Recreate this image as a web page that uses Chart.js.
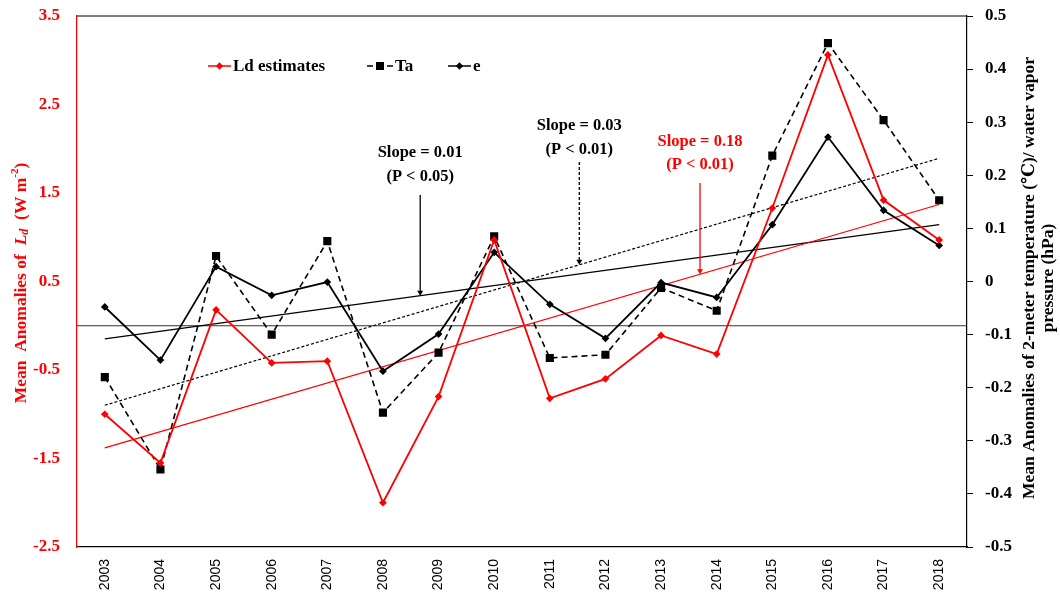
<!DOCTYPE html>
<html>
<head>
<meta charset="utf-8">
<script src="https://cdn.jsdelivr.net/npm/chart.js@4.4.1/dist/chart.umd.min.js"></script>
<style>
    html, body { margin: 0; padding: 0; background: #fff; }
    #wrap { width: 1060px; height: 594px; }
</style>
</head>
<body>
<div id="wrap"><canvas id="anomChart" width="1060" height="594"></canvas></div>
<script>
// Annual mean anomalies, 2003-2018
const years = ['2003', '2004', '2005', '2006', '2007', '2008', '2009', '2010',
               '2011', '2012', '2013', '2014', '2015', '2016', '2017', '2018'];
const ldEstimates = [-1.00, -1.55, 0.18, -0.42, -0.40, -2.00, -0.80, 0.97,
                     -0.82, -0.60, -0.11, -0.32, 1.33, 3.06, 1.42, 0.97];
const taValues = [-0.180, -0.354, 0.048, -0.100, 0.076, -0.247, -0.134, 0.085,
                  -0.144, -0.138, -0.012, -0.055, 0.237, 0.449, 0.304, 0.153];
const eValues = [-0.048, -0.148, 0.028, -0.026, -0.001, -0.169, -0.099, 0.055,
                 -0.043, -0.107, -0.002, -0.030, 0.107, 0.272, 0.134, 0.068];

// linear trends (value at first and last year)
const ldTrend = [-1.38, 1.37];
const taTrend = [-0.233, 0.232];
const eTrend = [-0.108, 0.107];

const leftTicks = [-2.5, -1.5, -0.5, 0.5, 1.5, 2.5, 3.5];
const rightTicks = [-0.5, -0.4, -0.3, -0.2, -0.1, 0, 0.1, 0.2, 0.3, 0.4, 0.5];

const slopeNotes = [
    { lines: ['Slope = 0.01', '(P < 0.05)'], trend: eTrend, axis: 'y1' },
    { lines: ['Slope = 0.03', '(P < 0.01)'], trend: taTrend, axis: 'y1' },
    { lines: ['Slope = 0.18', '(P < 0.01)'], trend: ldTrend, axis: 'y' }
];

const RED = '#ff0000';
const SERIF = '"Liberation Serif", "DejaVu Serif", serif';

function trendPoints(t) {
    return [{ x: years[0], y: t[0] }, { x: years[years.length - 1], y: t[1] }];
}

// keep the plot box fixed: set axis size and drop the label overhang padding
function fitVertical(width) {
    return scale => {
        scale.width = width;
        scale.paddingTop = 8;
        scale.paddingBottom = 8;
    };
}

// Extra drawing: zero line, frame top, legend, axis titles and slope notes
const decorPlugin = {
    id: 'decor',
    beforeDatasetsDraw(chart) {
        const { ctx, chartArea, scales } = chart;
        const y0 = scales.y.getPixelForValue(0);
        ctx.save();
        ctx.strokeStyle = '#333';
        ctx.lineWidth = 1;
        ctx.beginPath();
        ctx.moveTo(chartArea.left, y0);
        ctx.lineTo(chartArea.right, y0);
        ctx.stroke();
        ctx.restore();
    },
    afterDraw(chart) {
        const { ctx, chartArea, scales } = chart;
        ctx.save();

        // top border
        ctx.strokeStyle = '#000';
        ctx.lineWidth = 1;
        ctx.beginPath();
        ctx.moveTo(chartArea.left, chartArea.top);
        ctx.lineTo(chartArea.right, chartArea.top);
        ctx.stroke();

        // legend
        const legendY = 66;
        const entries = [
            { ds: 0, x1: 208, x2: 231, text: 'Ld estimates' },
            { ds: 1, x1: 367, x2: 393, text: 'Ta' },
            { ds: 2, x1: 448, x2: 471, text: 'e' }
        ];
        entries.forEach(en => {
            const ds = chart.data.datasets[en.ds];
            ctx.strokeStyle = ds.borderColor;
            ctx.lineWidth = 1.5;
            ctx.setLineDash(ds.borderDash || []);
            ctx.beginPath();
            ctx.moveTo(en.x1, legendY);
            ctx.lineTo(en.x2, legendY);
            ctx.stroke();
            ctx.setLineDash([]);
            ctx.fillStyle = ds.pointBackgroundColor;
            ctx.strokeStyle = ds.pointBorderColor;
            Chart.helpers.drawPoint(ctx, {
                pointStyle: ds.pointStyle,
                radius: ds.pointRadius,
                borderWidth: 1,
                rotation: 0
            }, (en.x1 + en.x2) / 2, legendY);
            ctx.fillStyle = '#000';
            ctx.font = 'bold 17px ' + SERIF;
            ctx.textAlign = 'left';
            ctx.textBaseline = 'middle';
            ctx.fillText(en.text, en.x2 + 2, legendY + 1);
        });

        // slope notes with arrows down to the trend lines
        const xs = scales.x;
        const step = xs.getPixelForValue(1) - xs.getPixelForValue(0);
        const notePlaces = [
            { at: 5.67, textY: [153, 177], from: 195, color: '#000', dash: [] },
            { at: 8.53, textY: [126, 150], from: 162, color: '#000', dash: [3, 2] },
            { at: 10.70, textY: [142, 165], from: 183, color: RED, dash: [] }
        ];
        slopeNotes.forEach((note, i) => {
            const p = notePlaces[i];
            const x = xs.getPixelForValue(0) + p.at * step;
            const v = note.trend[0] + (note.trend[1] - note.trend[0]) * p.at / (years.length - 1);
            const yEnd = scales[note.axis].getPixelForValue(v);
            ctx.fillStyle = p.color;
            ctx.font = 'bold 16.5px ' + SERIF;
            ctx.textAlign = 'center';
            ctx.textBaseline = 'middle';
            ctx.fillText(note.lines[0], x, p.textY[0]);
            ctx.fillText(note.lines[1], x, p.textY[1]);
            ctx.strokeStyle = p.color;
            ctx.lineWidth = 1.3;
            ctx.setLineDash(p.dash);
            ctx.beginPath();
            ctx.moveTo(x, p.from);
            ctx.lineTo(x, yEnd - 3);
            ctx.stroke();
            ctx.setLineDash([]);
            ctx.beginPath();
            ctx.moveTo(x - 3, yEnd - 5);
            ctx.lineTo(x + 3, yEnd - 5);
            ctx.lineTo(x, yEnd);
            ctx.closePath();
            ctx.fill();
        });

        // left axis title with italic L, subscript d, superscript -2
        const pieces = [
            { t: 'Mean  Anomalies of  ', f: 'bold 17.5px ' + SERIF, dy: 0 },
            { t: 'L', f: 'italic bold 17.5px ' + SERIF, dy: 0 },
            { t: 'd', f: 'italic bold 12px ' + SERIF, dy: 4 },
            { t: '  (W m', f: 'bold 17.5px ' + SERIF, dy: 0 },
            { t: '-2', f: 'bold 11px ' + SERIF, dy: -6 },
            { t: ')', f: 'bold 17.5px ' + SERIF, dy: 0 }
        ];
        ctx.translate(21, 283);
        ctx.rotate(-Math.PI / 2);
        ctx.fillStyle = RED;
        ctx.textAlign = 'left';
        ctx.textBaseline = 'middle';
        let total = 0;
        pieces.forEach(pc => { ctx.font = pc.f; total += ctx.measureText(pc.t).width; });
        let cx = -total / 2;
        pieces.forEach(pc => {
            ctx.font = pc.f;
            ctx.fillText(pc.t, cx, pc.dy);
            cx += ctx.measureText(pc.t).width;
        });
        ctx.setTransform(1, 0, 0, 1, 0, 0);

        // right axis title, two lines
        ctx.translate(1029, 278);
        ctx.rotate(-Math.PI / 2);
        ctx.fillStyle = '#000';
        ctx.font = 'bold 17.5px ' + SERIF;
        ctx.textAlign = 'center';
        ctx.fillText('Mean Anomalies of 2-meter temperature (\u2103)/ water vapor', 0, 0);
        ctx.fillText('pressure (hPa)', 0, 19);
        ctx.restore();
    }
};

const ctx = document.getElementById('anomChart').getContext('2d');
const chart = new Chart(ctx, {
    type: 'line',
    data: {
        labels: years,
        datasets: [
            {
                label: 'Ld estimates',
                data: ldEstimates,
                yAxisID: 'y',
                borderColor: RED,
                borderWidth: 1.8,
                pointStyle: 'rectRot',
                pointRadius: 2.6,
                pointBackgroundColor: RED,
                pointBorderColor: RED,
                tension: 0
            },
            {
                label: 'Ta',
                data: taValues,
                yAxisID: 'y1',
                borderColor: '#000',
                borderWidth: 1.6,
                borderDash: [6, 4],
                pointStyle: 'rect',
                pointRadius: 4.6,
                pointBackgroundColor: '#000',
                pointBorderColor: '#000',
                tension: 0
            },
            {
                label: 'e',
                data: eValues,
                yAxisID: 'y1',
                borderColor: '#000',
                borderWidth: 1.8,
                pointStyle: 'rectRot',
                pointRadius: 2.6,
                pointBackgroundColor: '#000',
                pointBorderColor: '#000',
                tension: 0
            },
            {
                label: 'Ld trend',
                data: trendPoints(ldTrend),
                yAxisID: 'y',
                borderColor: RED,
                borderWidth: 1.2,
                pointRadius: 0
            },
            {
                label: 'Ta trend',
                data: trendPoints(taTrend),
                yAxisID: 'y1',
                borderColor: '#000',
                borderWidth: 1.2,
                borderDash: [3, 2],
                pointRadius: 0
            },
            {
                label: 'e trend',
                data: trendPoints(eTrend),
                yAxisID: 'y1',
                borderColor: '#000',
                borderWidth: 1.2,
                pointRadius: 0
            }
        ]
    },
    options: {
        responsive: false,
        animation: false,
        layout: { padding: { top: 16, left: 0, right: 0, bottom: 0 } },
        plugins: {
            legend: { display: false },
            tooltip: { enabled: false }
        },
        scales: {
            x: {
                type: 'category',
                offset: true,
                grid: { display: false, drawTicks: false },
                border: { color: '#000', width: 1.2 },
                ticks: {
                    color: '#000',
                    font: { family: '"Liberation Sans", Arial, sans-serif', size: 14 },
                    minRotation: 90,
                    maxRotation: 90,
                    padding: 12,
                    autoSkip: false
                },
                afterFit: scale => { scale.height = 47; }
            },
            y: {
                position: 'left',
                min: -2.5,
                max: 3.5,
                grid: { display: false, drawTicks: false },
                border: { color: RED, width: 1.2 },
                afterBuildTicks: scale => { scale.ticks = leftTicks.map(v => ({ value: v })); },
                ticks: {
                    color: RED,
                    font: { family: SERIF, size: 17, weight: 'bold' },
                    padding: 17,
                    callback: v => v.toFixed(1)
                },
                afterFit: fitVertical(77)
            },
            y1: {
                position: 'right',
                min: -0.5,
                max: 0.5,
                grid: { display: true, drawOnChartArea: false, drawTicks: true, tickLength: 6, color: '#000' },
                border: { color: '#000', width: 1.2 },
                afterBuildTicks: scale => { scale.ticks = rightTicks.map(v => ({ value: v })); },
                ticks: {
                    color: '#000',
                    font: { family: SERIF, size: 17, weight: 'bold' },
                    padding: 12,
                    callback: v => String(Math.round(v * 10) / 10)
                },
                afterFit: fitVertical(93)
            }
        }
    },
    plugins: [decorPlugin]
});
</script>
</body>
</html>
